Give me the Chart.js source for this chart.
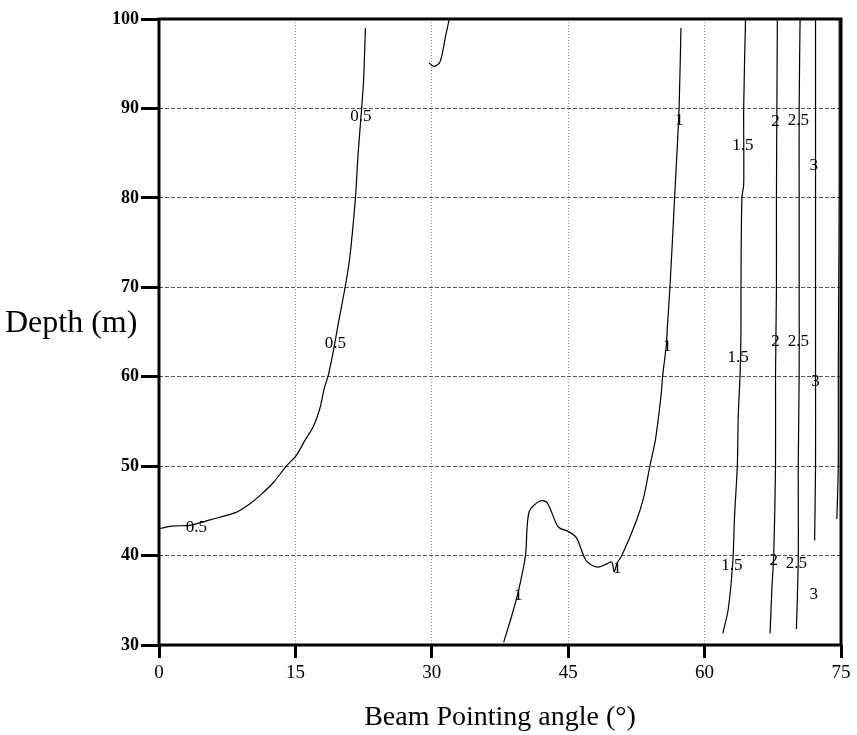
<!DOCTYPE html>
<html>
<head>
<meta charset="utf-8">
<script src="https://cdn.jsdelivr.net/npm/chart.js@4.4.1/dist/chart.umd.min.js"></script>
<style>
body { margin: 0; background: #fff; }
#wrap { width: 857px; height: 735px; }
</style>
</head>
<body>
<div id="wrap"><canvas id="grafico"></canvas></div>
<script>
// Contour lines: [angle (deg), depth (m)]
const linea05 = [[0,43.0],[1.4,43.3],[3.5,43.4],[5.6,44.0],[8.4,44.8],[10,45.8],[11.3,46.9],[12.6,48.2],[14.0,50.0],[15.1,51.2],[16.0,52.8],[17.0,54.5],[17.7,56.5],[18.2,58.8],[18.6,60.1],[19.2,63.0],[19.6,65.3],[20.5,70.2],[21.0,73.5],[21.6,80.0],[21.9,85.0],[22.3,90.2],[22.5,93.2],[22.7,99.0]];
const linea05b = [[29.7,95.1],[30.2,94.7],[30.9,95.2],[31.5,98.0],[31.9,99.9]];
const linea1 = [[37.9,30.3],[38.8,33.3],[39.5,35.9],[40.3,40.0],[40.7,44.9],[41.9,46.1],[42.7,45.9],[43.9,43.2],[45.0,42.7],[45.9,42.0],[47.0,39.4],[48.2,38.7],[49.3,39.1],[49.8,39.3],[50.05,38.2],[50.4,39.2],[50.9,40.0],[52.5,43.9],[53.3,46.5],[54.0,50.1],[54.6,53.0],[55.2,57.8],[55.4,60.2],[55.8,63.6],[55.9,65.5],[56.2,70.2],[56.7,80.0],[57.0,85.8],[57.2,90.2],[57.4,99.0]];
const linea15 = [[62.0,31.3],[62.6,34.0],[63.1,39.3],[63.3,44.5],[63.6,50.1],[63.7,55.6],[63.9,60.2],[64.0,65.3],[64.0,70],[64.1,80.0],[64.3,81.5],[64.3,90.2],[64.5,99.9]];
const linea2 = [[67.2,31.3],[67.4,36.3],[67.6,40.0],[67.8,50.1],[67.8,60.2],[67.9,70],[67.9,80],[67.95,90.2],[68.0,99.9]];
const linea25 = [[70.1,31.8],[70.3,39.6],[70.3,50.1],[70.4,60.2],[70.4,70],[70.4,80],[70.4,90.2],[70.5,99.9]];
const linea3 = [[72.1,41.7],[72.2,50.1],[72.2,60.2],[72.2,70],[72.2,80],[72.2,99.9]];
const linea35 = [[74.55,44.1],[74.7,50],[74.7,60],[74.75,70],[74.8,80],[74.8,99.9]];

// Contour labels: [text, angle, depth]
const etiquetas = [
    ['0.5', 22.2, 89.1], ['0.5', 19.4, 63.7], ['0.5', 4.1, 43.1],
    ['1', 57.2, 88.7], ['1', 55.9, 63.4], ['1', 39.5, 35.5], ['1', 50.4, 38.6],
    ['1.5', 64.2, 85.8], ['1.5', 63.7, 62.2], ['1.5', 63.0, 38.9],
    ['2', 67.8, 88.5], ['2', 67.8, 63.9], ['2', 67.6, 39.4],
    ['2.5', 70.3, 88.6], ['2.5', 70.3, 63.9], ['2.5', 70.1, 39.1],
    ['3', 72.0, 83.6], ['3', 72.2, 59.5], ['3', 72.0, 35.6]
];

const lineas = [linea05, linea05b, linea1, linea15, linea2, linea25, linea3, linea35];

const fuente = 'Liberation Serif, Times New Roman, serif';

// Draws contour labels
const pluginEtiquetas = {
    id: 'etiquetas',
    afterDatasetsDraw(chart) {
        const ctx = chart.ctx;
        const sx = chart.scales.x, sy = chart.scales.y;
        ctx.save();
        ctx.fillStyle = '#000';
        ctx.font = '17px ' + fuente;
        ctx.textAlign = 'center';
        ctx.textBaseline = 'middle';
        etiquetas.forEach(([t, x, y]) => {
            ctx.fillText(t, sx.getPixelForValue(x), sy.getPixelForValue(y));
        });
        ctx.restore();
    }
};

// Frame around the plot and horizontal y title
const pluginMarco = {
    id: 'marco',
    afterDraw(chart) {
        const ctx = chart.ctx;
        const a = chart.chartArea;
        ctx.save();
        ctx.setLineDash([]);
        ctx.strokeStyle = '#000';
        ctx.lineWidth = 3;
        ctx.strokeRect(a.left, a.top, a.right - a.left, a.bottom - a.top);
        ctx.fillStyle = '#000';
        ctx.font = '32px ' + fuente;
        ctx.textAlign = 'left';
        ctx.textBaseline = 'middle';
        ctx.fillText('Depth (m)', 5, 324);
        ctx.restore();
    }
};

new Chart(document.getElementById('grafico'), {
    type: 'scatter',
    data: {
        datasets: lineas.map(l => ({
            data: l.map(p => ({ x: p[0], y: p[1] })),
            showLine: true,
            borderColor: '#000',
            borderWidth: 1.2,
            pointRadius: 0,
            tension: 0.3,
            fill: false
        }))
    },
    options: {
        responsive: true,
        maintainAspectRatio: false,
        animation: false,
        devicePixelRatio: 1,
        layout: {
            padding: { left: 0, right: 16, top: 19, bottom: 1 }
        },
        plugins: {
            legend: { display: false },
            tooltip: { enabled: false }
        },
        scales: {
            x: {
                type: 'linear',
                min: 0,
                max: 75,
                afterFit: s => { s.height = 89; },
                ticks: {
                    stepSize: 15,
                    color: '#000',
                    padding: 4,
                    font: { family: fuente, size: 19 }
                },
                grid: {
                    color: '#9a9a9a',
                    lineWidth: 1,
                    tickLength: 13,
                    tickWidth: 3,
                    tickColor: '#000'
                },
                border: { display: false, dash: [1, 2] },
                title: {
                    display: true,
                    text: 'Beam Pointing angle (°)',
                    color: '#000',
                    padding: { top: 0, bottom: 0 },
                    font: { family: fuente, size: 28 }
                }
            },
            y: {
                type: 'linear',
                min: 30,
                max: 100,
                afterFit: s => { s.width = 159; },
                ticks: {
                    stepSize: 10,
                    color: '#000',
                    padding: 2,
                    font: { family: fuente, size: 18, weight: 'bold' }
                },
                grid: {
                    color: '#555',
                    lineWidth: 1,
                    tickLength: 18,
                    tickWidth: 3,
                    tickColor: '#000'
                },
                border: { display: false, dash: [4, 2] }
            }
        }
    },
    plugins: [pluginEtiquetas, pluginMarco]
});
</script>
</body>
</html>
